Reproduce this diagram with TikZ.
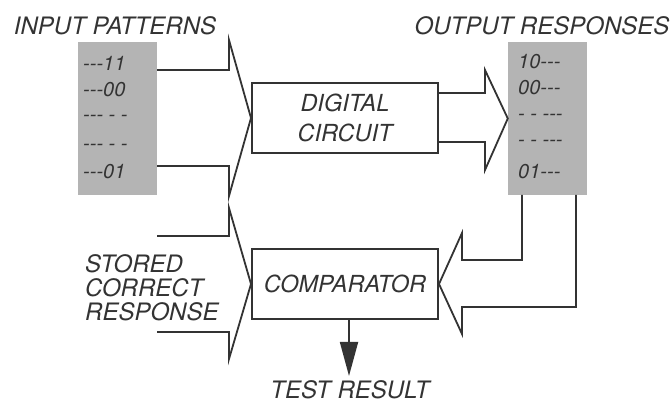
\documentclass[tikz,border=0pt]{standalone}
\usepackage{fontspec}
\setmainfont{TeX Gyre Heros}
\usetikzlibrary{arrows.meta}
\definecolor{ink}{HTML}{333333}
\definecolor{shade}{HTML}{B4B4B4}
\begin{document}
\begin{tikzpicture}[x=1pt,y=-1pt,
  lbl/.style={font=\fontsize{24}{24}\selectfont\itshape, text=ink, inner sep=0pt},
  pat/.style={font=\fontsize{20}{20}\selectfont\itshape, text=ink, inner sep=0pt, anchor=west},
  patbox/.style={fill=shade, draw=none, minimum width=79pt, minimum height=153pt, inner sep=0pt},
  blk/.style={draw=ink, line width=2pt, minimum width=186pt, minimum height=70pt, inner sep=0pt,
    font=\fontsize{23.5}{30}\selectfont\itshape, text=ink, align=center},
  bigarrow/.style={draw=ink, line width=1.8pt, line join=miter},
  thin/.style={draw=ink, line width=1.8pt}]
\useasboundingbox (0,0) rectangle (670,403);

% pattern boxes
\node[patbox] (inbox) at (117.5,118.5) {};
\node[patbox] (outbox) at (547.5,118.5) {};
\node[lbl] (inlab) at (115,26) {INPUT PATTERNS};
\node[lbl] (outlab) at (542,26) {OUTPUT RESPONSES};

\node[pat] (i1) at (83,63) {-{}-{}-11};
\node[pat] (i2) at (83,90) {-{}-{}-00};
\node[pat] (i3) at (83,118) {-{}-{}- - -};
\node[pat] (i4) at (83,147) {-{}-{}- - -};
\node[pat] (i5) at (83,172) {-{}-{}-01};

\node[pat] (o1) at (518,62) {10-{}-{}-};
\node[pat] (o2) at (518,88) {00-{}-{}-};
\node[pat] (o3) at (518,117) {- - -{}-{}-};
\node[pat] (o4) at (518,143) {- - -{}-{}-};
\node[pat] (o5) at (518,172) {01-{}-{}-};

% blocks
\node[blk] (dc) at (345,118) {DIGITAL\\CIRCUIT};
\node[blk] (cmp) at (345,284) {COMPARATOR};

% input big arrow
\draw[bigarrow] (inbox.east |- 0,70) -- (229,70) -- (229,40) -- (dc.west)
  -- (229,196) -- (229,166) -- (inbox.east |- 0,166);

% output big arrow
\draw[bigarrow] (dc.east |- 0,93) -- (485,93) -- (485,70) -- (outbox.west)
  -- (485,170) -- (485,142) -- (dc.east |- 0,142);

% stored correct response arrow
\draw[bigarrow] (157,236) -- (229,236) -- (229,208) -- (cmp.west)
  -- (229,359) -- (229,332) -- (157,332);
\node[lbl, anchor=west, align=left] (scr) at (85,288)
  {STORED\\CORRECT\\RESPONSE};

% feedback arrow
\coordinate (fl) at (522,195);
\coordinate (fr) at (576,195);
\draw[bigarrow] (fl) -- (522,260) -- (462,260) -- (462,233) -- (cmp.east)
  -- (462,334) -- (462,307) -- (576,307) -- (fr);

% test result
\node[lbl] (tr) at (350,390) {TEST RESULT};
\coordinate (trtip) at (349,376);
\draw[thin, -{Triangle[length=34pt,width=18pt]}, color=ink] (cmp.south -| trtip) -- (trtip);
\end{tikzpicture}
\end{document}
